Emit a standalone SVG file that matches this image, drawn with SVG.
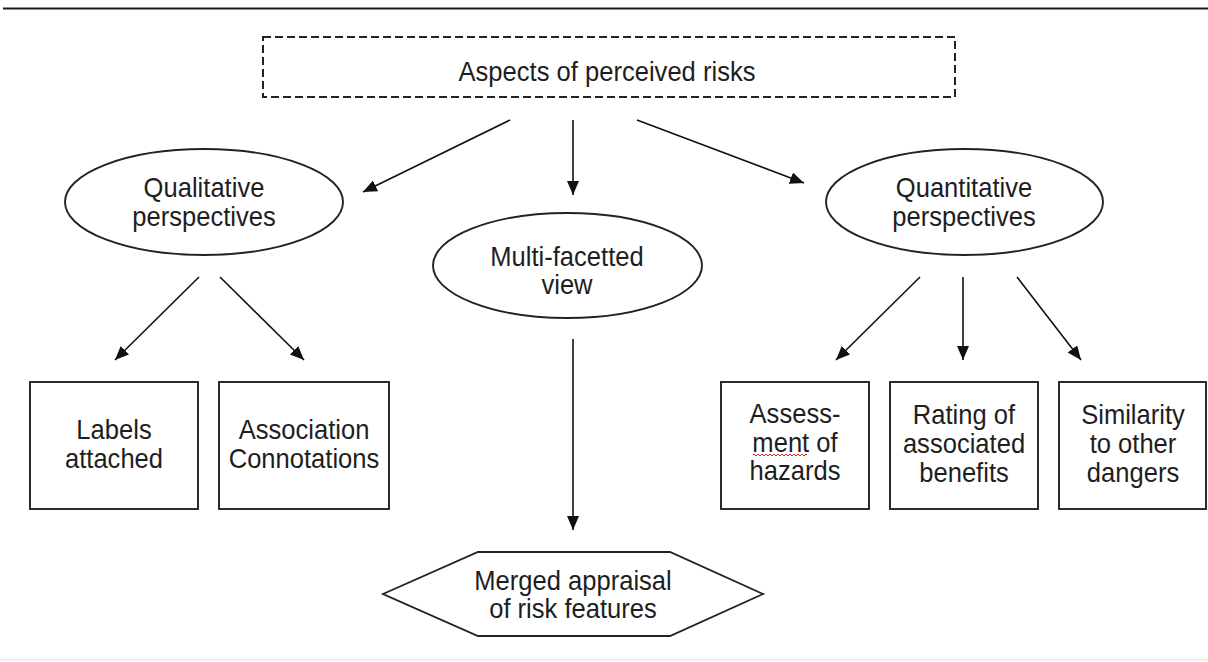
<svg xmlns="http://www.w3.org/2000/svg" width="1208" height="662" viewBox="0 0 1208 662">
<defs>
<style>
.node{fill:#fff;stroke:#222;stroke-width:1.9}
.dash{fill:#fff;stroke:#222;stroke-width:2;stroke-dasharray:8 4}
.lbl{font-family:"Liberation Sans",Arial,sans-serif;font-size:27.5px;fill:#1e1e1e;text-anchor:middle}
.conn line{stroke:#111;stroke-width:1.6;marker-end:url(#ah)}
</style>
<marker id="ah" markerUnits="userSpaceOnUse" markerWidth="14" markerHeight="12" refX="14" refY="6" orient="auto">
<path d="M0,0 L14,6 L0,12 z" fill="#111"/>
</marker>
</defs>
<rect width="1208" height="662" fill="#fff"/>
<line x1="3" y1="8.5" x2="1208" y2="8.5" stroke="#1a1a1a" stroke-width="2.2"/>
<line x1="0" y1="659.5" x2="1208" y2="659.5" stroke="#ececec" stroke-width="2"/>

<g id="aspects">
<rect class="dash" x="263" y="37" width="692" height="60"/>
<text class="lbl" transform="translate(607 81) scale(0.93 1)">Aspects of perceived risks</text>
</g>

<g id="qualitative">
<ellipse class="node" cx="204" cy="202" rx="139" ry="53"/>
<text class="lbl" transform="translate(204 197) scale(0.93 1)">Qualitative</text>
<text class="lbl" transform="translate(204 226) scale(0.93 1)">perspectives</text>
</g>

<g id="multi">
<ellipse class="node" cx="567.5" cy="265.5" rx="134.5" ry="52.5"/>
<text class="lbl" transform="translate(567 266) scale(0.93 1)">Multi-facetted</text>
<text class="lbl" transform="translate(567 294) scale(0.93 1)">view</text>
</g>

<g id="quantitative">
<ellipse class="node" cx="964.5" cy="202" rx="138.5" ry="53"/>
<text class="lbl" transform="translate(964 197) scale(0.93 1)">Quantitative</text>
<text class="lbl" transform="translate(964 226) scale(0.93 1)">perspectives</text>
</g>

<g id="labels">
<rect class="node" x="30" y="382" width="168" height="127"/>
<text class="lbl" transform="translate(114 439) scale(0.93 1)">Labels</text>
<text class="lbl" transform="translate(114 468) scale(0.93 1)">attached</text>
</g>

<g id="association">
<rect class="node" x="219" y="382" width="170" height="127"/>
<text class="lbl" transform="translate(304 439) scale(0.93 1)">Association</text>
<text class="lbl" transform="translate(304 468) scale(0.93 1)">Connotations</text>
</g>

<g id="assessment">
<rect class="node" x="721" y="382" width="148" height="127"/>
<text class="lbl" transform="translate(795 423) scale(0.93 1)">Assess-</text>
<text class="lbl" transform="translate(795 452) scale(0.93 1)">ment of</text>
<text class="lbl" transform="translate(795 480) scale(0.93 1)">hazards</text>
<path d="M753,455 q1,-2 2,0 t2,0 t2,0 t2,0 t2,0 t2,0 t2,0 t2,0 t2,0 t2,0 t2,0 t2,0 t2,0 t2,0 t2,0 t2,0 t2,0 t2,0 t2,0 t2,0 t2,0 t2,0 t2,0 t2,0 t2,0 t2,0 t2,0" fill="none" stroke="#d22" stroke-width="1"/>
</g>

<g id="rating">
<rect class="node" x="890" y="382" width="148" height="127"/>
<text class="lbl" transform="translate(964 424) scale(0.93 1)">Rating of</text>
<text class="lbl" transform="translate(964 453) scale(0.93 1)">associated</text>
<text class="lbl" transform="translate(964 482) scale(0.93 1)">benefits</text>
</g>

<g id="similarity">
<rect class="node" x="1059" y="382" width="147" height="127"/>
<text class="lbl" transform="translate(1133 424) scale(0.93 1)">Similarity</text>
<text class="lbl" transform="translate(1133 453) scale(0.93 1)">to other</text>
<text class="lbl" transform="translate(1133 482) scale(0.93 1)">dangers</text>
</g>

<g id="merged">
<polygon class="node" points="383,594 478,552 670,552 763,594 670,636 478,636"/>
<text class="lbl" transform="translate(573 590) scale(0.93 1)">Merged appraisal</text>
<text class="lbl" transform="translate(573 618) scale(0.93 1)">of risk features</text>
</g>

<g class="conn" id="connectors">
<line x1="510" y1="120" x2="363" y2="192"/>
<line x1="573" y1="120" x2="573" y2="195"/>
<line x1="637" y1="120" x2="804" y2="183"/>
<line x1="199" y1="277" x2="115" y2="360"/>
<line x1="220" y1="277" x2="304" y2="360"/>
<line x1="573" y1="339" x2="573" y2="530"/>
<line x1="920" y1="277" x2="836" y2="360"/>
<line x1="963" y1="277" x2="963" y2="360"/>
<line x1="1017" y1="277" x2="1081" y2="360"/>
</g>
</svg>
